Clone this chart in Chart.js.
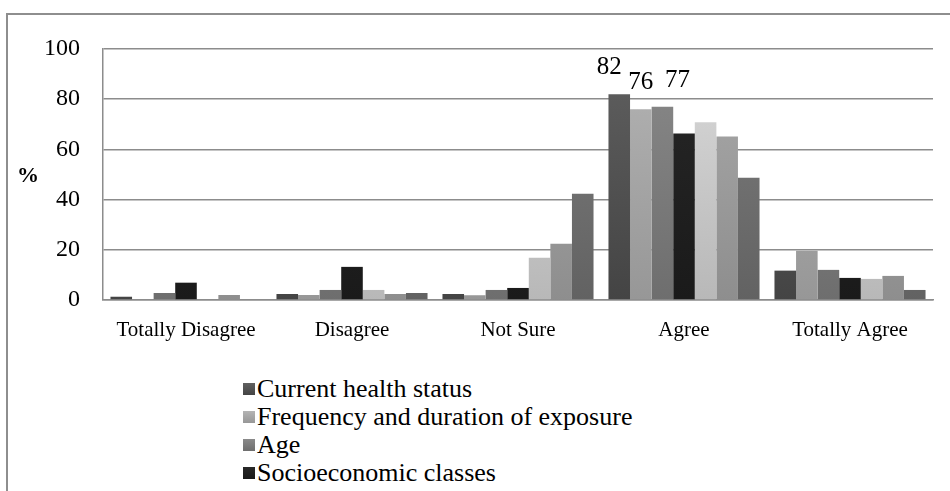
<!DOCTYPE html>
<html>
<head>
<meta charset="utf-8">
<script src="https://cdn.jsdelivr.net/npm/chart.js@4.4.1/dist/chart.umd.min.js"></script>
<style>
  html, body { margin: 0; padding: 0; background: #fff; overflow: hidden; width: 950px; height: 491px; }
  #frame { position: absolute; left: 6px; top: 13px; width: 1000px; height: 600px;
           border-left: 2px solid #8e8e8e; border-top: 2px solid #8e8e8e; }
  #wrap { position: absolute; left: 0; top: 0; width: 950px; height: 345px; }
  #legend { position: absolute; left: 243px; top: 375px; margin: 0; padding: 0; list-style: none;
            font-family: 'Liberation Serif', 'Times New Roman', Times, 'DejaVu Serif', serif;
            font-size: 26px; color: #000; }
  #legend li { height: 28px; line-height: 28px; display: flex; align-items: center; white-space: nowrap; }
  #legend .box { width: 12px; height: 12px; margin-right: 2px; flex: none; }
</style>
</head>
<body>
<div id="frame"></div>
<div id="wrap"><canvas id="chart"></canvas></div>
<ul id="legend"></ul>
<script>
  // categories and series values (%)
  const categories = ['Totally Disagree', 'Disagree', 'Not Sure', 'Agree', 'Totally Agree'];
  const seriesNames = ['Current health status', 'Frequency and duration of exposure', 'Age',
                       'Socioeconomic classes', 'Series 5', 'Series 6', 'Series 7'];
  const currentHealth = [1.3, 2.4, 2.4, 82, 11.7];
  const frequencyExposure = [0, 2, 1.9, 76, 19.6];
  const age = [2.8, 4, 4, 77, 12];
  const socioeconomic = [6.9, 13.2, 4.8, 66.3, 8.8];
  const series5 = [0, 4, 16.8, 70.8, 8.4];
  const series6 = [2, 2.4, 22.4, 65.1, 9.6];
  const series7 = [0, 2.8, 42.3, 48.7, 4];
  const yTicks = [0, 20, 40, 60, 80, 100];
  const labelledSeries = [0, 1, 2];   // series with value labels on "Agree"
  const labelledCategory = 3;

  const allSeries = [currentHealth, frequencyExposure, age, socioeconomic, series5, series6, series7];
  // gradient colours, top -> bottom
  const shades = [
    ['#606060', '#444444'],
    ['#b4b4b4', '#979797'],
    ['#8a8a8a', '#6e6e6e'],
    ['#282828', '#1a1a1a'],
    ['#dadada', '#b8b8b8'],
    ['#aaaaaa', '#8e8e8e'],
    ['#7e7e7e', '#626262']
  ];

  function gradientFor(i) {
    return function (context) {
      const chart = context.chart;
      const area = chart.chartArea;
      if (!area) return shades[i][1];
      const g = chart.ctx.createLinearGradient(0, area.top, 0, area.bottom);
      g.addColorStop(0, shades[i][0]);
      g.addColorStop(1, shades[i][1]);
      return g;
    };
  }

  const serif = "'Liberation Serif', 'Times New Roman', Times, 'DejaVu Serif', serif";
  Chart.defaults.font.family = serif;

  // % title and value labels
  const extras = {
    id: 'extras',
    afterDatasetsDraw(chart) {
      const c = chart.ctx;
      c.save();
      c.fillStyle = '#000';
      c.font = 'bold 22px ' + serif;
      c.textAlign = 'center';
      c.textBaseline = 'middle';
      c.fillText('%', 28, 176);

      const shift = [-10, 0, 15];
      c.font = '25px ' + serif;
      c.textBaseline = 'bottom';
      labelledSeries.forEach((ds, k) => {
        const bar = chart.getDatasetMeta(ds).data[labelledCategory];
        const v = chart.data.datasets[ds].data[labelledCategory];
        c.fillText(String(Math.round(v)), bar.x + shift[k], bar.y - 14);
      });
      c.restore();
    }
  };

  function build() {
    new Chart(document.getElementById('chart'), {
      type: 'bar',
      data: {
        labels: categories,
        datasets: allSeries.map((d, i) => ({
          label: seriesNames[i],
          data: d,
          backgroundColor: gradientFor(i),
          borderWidth: 0,
          categoryPercentage: 0.91,
          barPercentage: 1.0
        }))
      },
      options: {
        responsive: true,
        maintainAspectRatio: false,
        animation: false,
        layout: { padding: { left: 0, right: 17, top: 49, bottom: 0 } },
        plugins: { legend: { display: false }, tooltip: { enabled: false } },
        scales: {
          x: {
            grid: { display: false },
            border: { display: true, color: '#8c8c8c', width: 1.5 },
            ticks: { color: '#000', font: { family: serif, size: 21 }, padding: 10, maxRotation: 0 },
            afterFit(scale) { scale.height = 45; }
          },
          y: {
            min: 0,
            max: 100,
            afterBuildTicks(scale) { scale.ticks = yTicks.map(v => ({ value: v })); },
            grid: { color: '#8c8c8c', lineWidth: 1.5, drawTicks: false },
            border: { display: true, color: '#8c8c8c', width: 1.5 },
            ticks: { color: '#000', font: { family: serif, size: 24 }, padding: 23 },
            afterFit(scale) { scale.width = 103; }
          }
        }
      },
      plugins: [extras]
    });
  }

  // vertical legend below the chart
  const legend = document.getElementById('legend');
  seriesNames.forEach((name, i) => {
    const li = document.createElement('li');
    const box = document.createElement('span');
    box.className = 'box';
    box.style.background = 'linear-gradient(' + shades[i][0] + ',' + shades[i][1] + ')';
    const txt = document.createElement('span');
    txt.textContent = name;
    li.appendChild(box);
    li.appendChild(txt);
    legend.appendChild(li);
  });

  document.fonts.load("24px 'Liberation Serif'").then(build, build);
</script>
</body>
</html>
